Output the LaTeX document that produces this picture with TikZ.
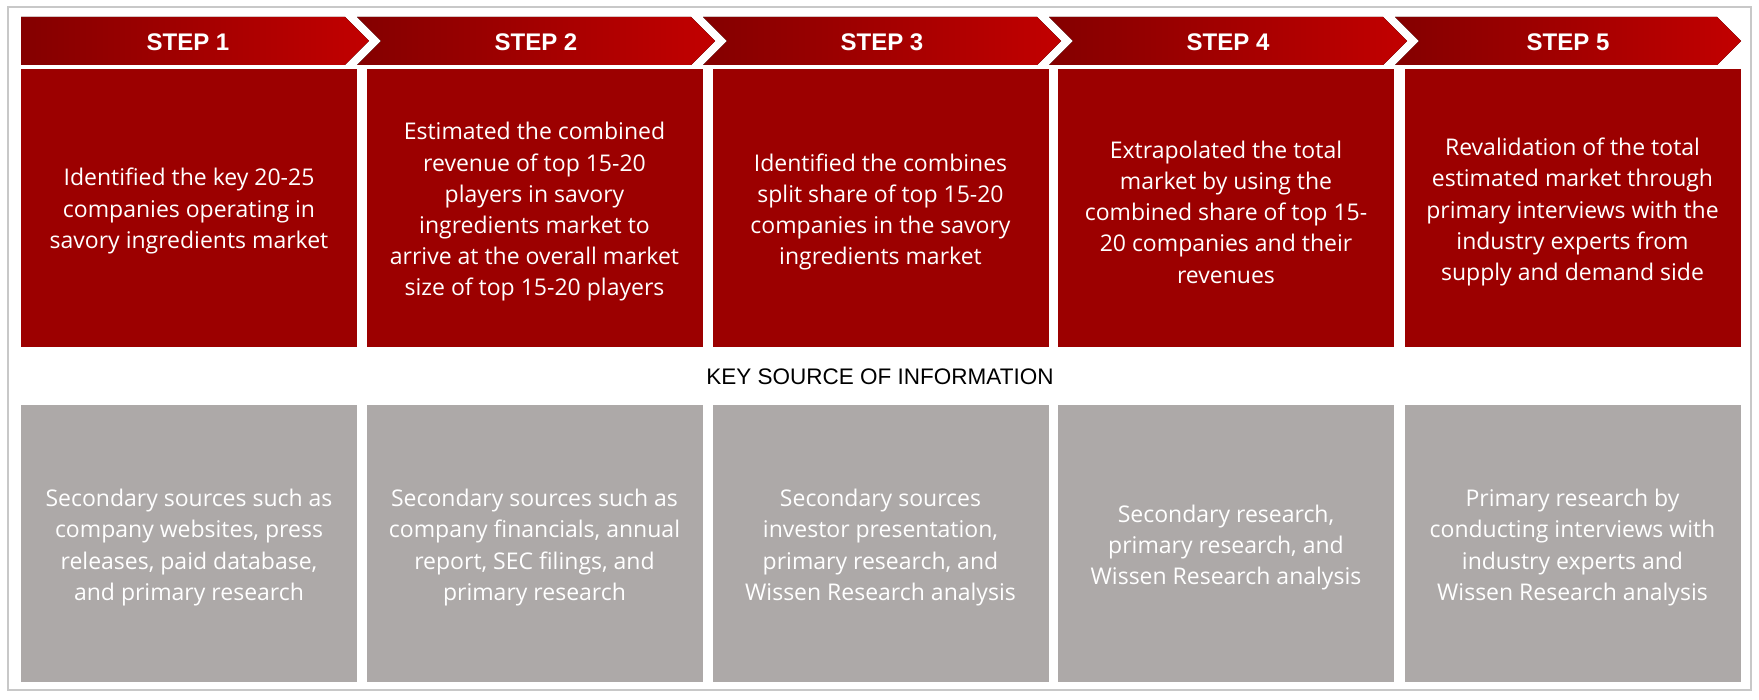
\documentclass[tikz,border=0pt]{standalone}
\usepackage{fontspec}
\setmainfont{Open Sans}
\newfontfamily\hdfont{Liberation Sans}
\definecolor{boxred}{HTML}{9C0000}
\definecolor{chevdark}{HTML}{840000}
\definecolor{chevlight}{HTML}{C20000}
\definecolor{boxgray}{HTML}{ADA9A8}
\definecolor{framegray}{HTML}{C8C8C8}
\tikzset{
  chev/.style={left color=chevdark, right color=chevlight, draw=none},
  chevtext/.style={text=white, font=\hdfont\bfseries\fontsize{24}{28}\selectfont, inner sep=0pt},
  redbox/.style={fill=boxred, draw=none, minimum width=336pt, minimum height=278pt, inner sep=0pt},
  graybox/.style={fill=boxgray, draw=none, minimum width=336pt, minimum height=277pt, inner sep=0pt},
  boxtext/.style={text=white, align=center, inner sep=0pt, font=\fontsize{23}{31.2}\selectfont},
  keytext/.style={text=black, font=\hdfont\fontsize{22.5}{26}\selectfont, inner sep=0pt}
}
\begin{document}
\begin{tikzpicture}[x=1pt,y=-1pt]
\useasboundingbox (0,0) rectangle (1759,700);
\draw[line width=2.5pt, draw=framegray] (8,7) rectangle (1751,690);

% chevrons
\fill[chev] (21,17) -- (345,17) -- (369,41) -- (345,65) -- (21,65) -- cycle;
\fill[chev] (357,17) -- (691,17) -- (715,41) -- (691,65) -- (357,65) -- (381,41) -- cycle;
\fill[chev] (703,17) -- (1037,17) -- (1061,41) -- (1037,65) -- (703,65) -- (727,41) -- cycle;
\fill[chev] (1049,17) -- (1383,17) -- (1407,41) -- (1383,65) -- (1049,65) -- (1073,41) -- cycle;
\fill[chev] (1395,17) -- (1717,17) -- (1741,41) -- (1717,65) -- (1395,65) -- (1419,41) -- cycle;

\node[chevtext] (s1) at (188,42) {STEP 1};
\node[chevtext] (s2) at (536,42) {STEP 2};
\node[chevtext] (s3) at (882,42) {STEP 3};
\node[chevtext] (s4) at (1228,42) {STEP 4};
\node[chevtext] (s5) at (1568,42) {STEP 5};

% red boxes
\node[redbox] (r1) at (189,208) {};
\node[redbox] (r2) at (534.5,208) {};
\node[redbox] (r3) at (880.5,208) {};
\node[redbox] (r4) at (1226,208) {};
\node[redbox] (r5) at (1572.5,208) {};
\node[boxtext] (t1) at ([yshift=-3pt]r1.center) {Identified the key 20-25\\companies operating in\\savory ingredients market};
\node[boxtext] (t2) at ([yshift=-4pt]r2.center) {Estimated the combined\\revenue of top 15-20\\players in savory\\ingredients market to\\arrive at the overall market\\size of top 15-20 players};
\node[boxtext] (t3) at ([yshift=-4pt]r3.center) {Identified the combines\\split share of top 15-20\\companies in the savory\\ingredients market};
\node[boxtext] (t4) at ([yshift=-4pt]r4.center) {Extrapolated the total\\market by using the\\combined share of top 15-\\20 companies and their\\revenues};
\node[boxtext] (t5) at ([yshift=-4pt]r5.center) {Revalidation of the total\\estimated market through\\primary interviews with the\\industry experts from\\supply and demand side};

\node[keytext] (key) at (880,377) {KEY SOURCE OF INFORMATION};

% gray boxes
\node[graybox] (g1) at (189,543.5) {};
\node[graybox] (g2) at (534.5,543.5) {};
\node[graybox] (g3) at (880.5,543.5) {};
\node[graybox] (g4) at (1226,543.5) {};
\node[graybox] (g5) at (1572.5,543.5) {};
\node[boxtext] (u1) at ([yshift=-4pt]g1.center) {Secondary sources such as\\company websites, press\\releases, paid database,\\and primary research};
\node[boxtext] (u2) at ([yshift=-4pt]g2.center) {Secondary sources such as\\company financials, annual\\report, SEC filings, and\\primary research};
\node[boxtext] (u3) at ([yshift=-4pt]g3.center) {Secondary sources\\investor presentation,\\primary research, and\\Wissen Research analysis};
\node[boxtext] (u4) at ([yshift=-4pt]g4.center) {Secondary research,\\primary research, and\\Wissen Research analysis};
\node[boxtext] (u5) at ([yshift=-4pt]g5.center) {Primary research by\\conducting interviews with\\industry experts and\\Wissen Research analysis};
\end{tikzpicture}
\end{document}
